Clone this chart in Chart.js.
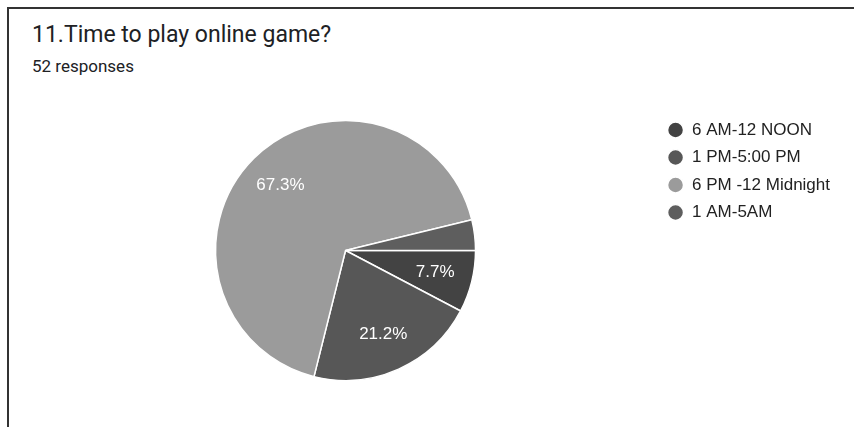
<!DOCTYPE html>
<html>
<head>
<meta charset="utf-8">
<script src="https://cdn.jsdelivr.net/npm/chart.js@4"></script>
<style>
  html, body { margin: 0; padding: 0; background: #fff; }
  body { width: 854px; height: 427px; position: relative; overflow: hidden; }
  /* card frame: only top and left edges are visible */
  #frame { position: absolute; left: 7px; top: 7px; right: -4px; bottom: -4px;
           border-top: 2px solid #333; border-left: 2px solid #333; }
  #title { position: absolute; left: 32px; top: 23px; font: 23px/23px Roboto, sans-serif; color: #202124; }
  #sub { position: absolute; left: 32px; top: 58px; font: 17px/17px Roboto, sans-serif; color: #202124; }
  #pie { position: absolute; left: 0; top: 0; }
</style>
</head>
<body>
<div id="frame"></div>
<div id="title">11.Time to play online game?</div>
<div id="sub">52 responses</div>
<canvas id="pie" width="854" height="427"></canvas>
<script>
// respostas por faixa de horário (percentual)
const faixas = ["6 AM-12 NOON", "1 PM-5:00 PM", "6 PM -12 Midnight", "1 AM-5AM"];
const percentuais = [7.7, 21.2, 67.3, 3.8];
const cores = ["#434343", "#575757", "#9b9b9b", "#5e5e5e"];

// escreve o percentual dentro de cada fatia (fatias pequenas ficam sem rótulo)
const rotulosFatia = {
    id: "rotulosFatia",
    afterDatasetsDraw(chart) {
        const ctx = chart.ctx;
        const meta = chart.getDatasetMeta(0);
        ctx.save();
        ctx.font = "17px 'Liberation Sans', Arial, sans-serif";
        ctx.fillStyle = "#ffffff";
        ctx.textAlign = "center";
        ctx.textBaseline = "middle";
        meta.data.forEach(function (arc, i) {
            const valor = percentuais[i];
            if (valor < 5) return;
            const p = arc.getProps(["x", "y", "startAngle", "endAngle", "outerRadius"], true);
            const meio = (p.startAngle + p.endAngle) / 2;
            const r = p.outerRadius * 0.71;
            ctx.fillText(valor.toFixed(1) + "%", p.x + Math.cos(meio) * r, p.y + Math.sin(meio) * r);
        });
        ctx.restore();
    }
};

new Chart(document.getElementById("pie").getContext("2d"), {
    type: "pie",
    data: {
        labels: faixas,
        datasets: [
            {
                data: percentuais,
                backgroundColor: cores,
                borderColor: "#ffffff",
                borderWidth: 1.5,
                radius: 130
            }
        ]
    },
    options: {
        responsive: false,
        animation: false,
        rotation: 90,
        layout: {
            padding: { top: 111, bottom: 37, left: 34, right: 14 }
        },
        plugins: {
            legend: {
                position: "right",
                align: "start",
                labels: {
                    usePointStyle: true,
                    pointStyle: "circle",
                    boxWidth: 16,
                    boxHeight: 11.3,
                    padding: 10.5,
                    color: "#222222",
                    font: { family: "'Liberation Sans', Arial, sans-serif", size: 17 }
                }
            },
            tooltip: { enabled: false }
        }
    },
    plugins: [rotulosFatia]
});
</script>
</body>
</html>
